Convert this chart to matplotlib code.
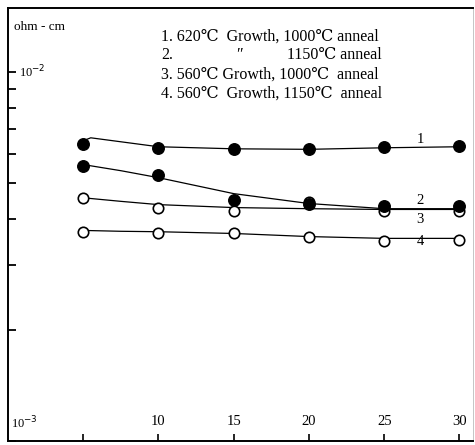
import matplotlib
matplotlib.use("Agg")
import matplotlib.pyplot as plt
import matplotlib.ticker as ticker

# measured points (ohm-cm) vs x
x_pts = [5, 10, 15, 20, 25, 30]
s1 = [6.39e-3, 6.23e-3, 6.19e-3, 6.19e-3, 6.27e-3, 6.31e-3]
s2 = [5.57e-3, 5.27e-3, 4.51e-3, 4.40e-3, 4.32e-3, 4.32e-3]
s3 = [4.56e-3, 4.29e-3, 4.21e-3, 4.45e-3, 4.21e-3, 4.21e-3]
s4 = [3.69e-3, 3.67e-3, 3.65e-3, 3.56e-3, 3.49e-3, 3.51e-3]

# hand-drawn fit curves
fit1_x = [5, 5.5, 10, 15, 20, 25, 30]
fit1_y = [6.51e-3, 6.63e-3, 6.27e-3, 6.19e-3, 6.17e-3, 6.23e-3, 6.27e-3]
fit_x = [5, 7.5, 10, 15, 20, 25, 30]
fit2_y = [5.61e-3, 5.40e-3, 5.17e-3, 4.68e-3, 4.40e-3, 4.26e-3, 4.26e-3]
fit3_y = [4.56e-3, 4.46e-3, 4.37e-3, 4.29e-3, 4.26e-3, 4.24e-3, 4.24e-3]
fit4_y = [3.72e-3, 3.70e-3, 3.69e-3, 3.65e-3, 3.58e-3, 3.54e-3, 3.54e-3]

x_ticks = [5, 10, 15, 20, 25, 30]
x_tick_labels = ["", "10", "15", "20", "25", "30"]

legend_lines = [
    "1. 620\u2103  Growth, 1000\u2103 anneal",
    "2.",
    "3. 560\u2103 Growth, 1000\u2103  anneal",
    "4. 560\u2103  Growth, 1150\u2103  anneal",
]

SERIF = ["Liberation Serif", "DejaVu Serif"]
plt.rcParams["font.family"] = SERIF

fig = plt.figure(figsize=(4.75, 4.45), dpi=100)
ax = fig.add_axes([0.0168, 0.009, 0.979, 0.973])

ax.set_yscale("log")
ax.set_xlim(0, 30.9)
ax.set_ylim(1e-3, 1.49e-2)

lw = 0.9
ax.plot(fit1_x, fit1_y, color="black", lw=lw, zorder=2)
ax.plot(fit_x, fit2_y, color="black", lw=lw, zorder=2)
ax.plot(fit_x, fit3_y, color="black", lw=lw, zorder=2)
ax.plot(fit_x, fit4_y, color="black", lw=lw, zorder=2)

ax.plot(x_pts, s3, "o", ms=7.5, mfc="white", mec="black", mew=1.2, zorder=3)
ax.plot(x_pts, s4, "o", ms=7.5, mfc="white", mec="black", mew=1.2, zorder=3)
ax.plot(x_pts, s1, "o", ms=8.3, mfc="black", mec="black", zorder=4)
ax.plot(x_pts, s2, "o", ms=8.3, mfc="black", mec="black", zorder=4)

# curve labels
for lab, yv in zip(["1", "2", "3", "4"], [6.57e-3, 4.49e-3, 3.99e-3, 3.47e-3]):
    ax.text(27.4, yv, lab, ha="center", va="center", fontsize=10.5)

# axes frame
for side in ["left", "bottom", "top"]:
    ax.spines[side].set_linewidth(1.4)
ax.spines["right"].set_linewidth(0.6)
ax.spines["right"].set_color("#bbbbbb")

ax.set_xticks(x_ticks)
ax.xaxis.set_major_formatter(ticker.FixedFormatter(x_tick_labels))
ax.tick_params(axis="x", direction="in", length=5, width=1.2, pad=-19,
               labelsize=10.5)

ax.yaxis.set_major_locator(ticker.FixedLocator([1e-3, 1e-2]))
ax.yaxis.set_minor_locator(ticker.LogLocator(base=10, subs=range(2, 10)))
ax.yaxis.set_major_formatter(ticker.NullFormatter())
ax.yaxis.set_minor_formatter(ticker.NullFormatter())
ax.tick_params(axis="y", which="both", direction="in", length=6, width=1.3)

ax.text(0.75, 1e-2, "10$^{-2}$", ha="left", va="center", fontsize=9)
ax.text(0.2, 1.12e-3, "10$^{-3}$", ha="left", va="center", fontsize=9)
ax.text(0.012, 0.955, "ohm - cm", transform=ax.transAxes, ha="left",
        va="center", fontsize=9.5)

# legend block
leg_x = 0.33
leg_y = [0.935, 0.891, 0.846, 0.802]
for txt, yy in zip(legend_lines, leg_y):
    ax.text(leg_x, yy, txt, transform=ax.transAxes, ha="left", va="center",
            fontsize=11.5)
ax.text(0.49, leg_y[1], "\u2033", transform=ax.transAxes, ha="left",
        va="center", fontsize=11.5)
ax.text(0.6, leg_y[1], "1150\u2103 anneal", transform=ax.transAxes,
        ha="left", va="center", fontsize=11.5)

fig.savefig("out.png", dpi=100)
